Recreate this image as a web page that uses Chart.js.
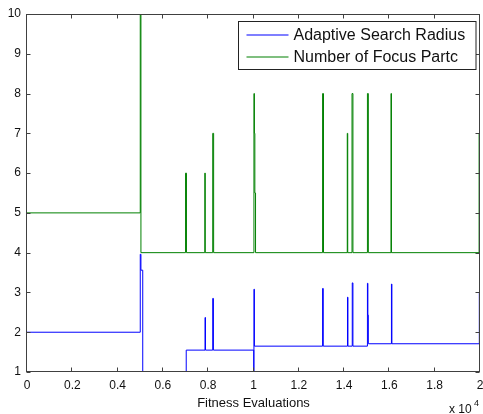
<!DOCTYPE html>
<html>
<head>
<meta charset="utf-8">
<script src="https://cdn.jsdelivr.net/npm/chart.js@4.4.0/dist/chart.umd.min.js"></script>
<style>
    html, body { margin: 0; padding: 0; background: #fff; }
    #wrap { width: 483px; height: 414px; position: relative; }
</style>
</head>
<body>
<div id="wrap"><canvas id="chart"></canvas></div>
<script>
// Series data (x in units of 10^4 fitness evaluations)
const radiusX = [0, 0.500, 0.503, 0.511, 0.703, 0.786, 0.788, 0.820, 0.823, 1.001, 1.002, 1.004, 1.305, 1.308, 1.415, 1.417, 1.436, 1.439, 1.503, 1.505, 1.507, 1.609, 1.611, 1.997, 2.0];
const radiusY = [2, 3.96, 3.56, 0.8, 1.55, 2.37, 1.55, 2.85, 1.55, 0.8, 3.08, 1.65, 3.10, 1.65, 2.88, 1.65, 3.24, 1.65, 3.23, 2.43, 1.71, 3.21, 1.71, 3.0, 3.0];

const focusX = [0, 0.500, 0.503, 0.700, 0.704, 0.785, 0.787, 0.820, 0.824, 1.002, 1.004, 1.006, 1.009, 1.305, 1.309, 1.414, 1.416, 1.435, 1.439, 1.503, 1.507, 1.607, 1.609, 1.996, 2.0];
const focusY = [5, 10, 4, 6, 4, 6, 4, 7, 4, 8, 7, 5.5, 4, 8, 4, 7, 4, 8, 4, 8, 4, 8, 4, 7, 7];

// Axis ticks
const xTicks = [0, 0.2, 0.4, 0.6, 0.8, 1, 1.2, 1.4, 1.6, 1.8, 2];
const yTicks = [1, 2, 3, 4, 5, 6, 7, 8, 9, 10];
const seriesLabels = ['Adaptive Search Radius', 'Number of Focus Partc'];
const seriesColors = ['#0000ff', '#008000'];

const FONT = '"Liberation Sans", Arial, sans-serif';

function toPoints(xs, ys) {
    return xs.map((x, i) => ({ x: x, y: ys[i] }));
}

// Box frame with inward tick marks, MATLAB style
const framePlugin = {
    id: 'frame',
    afterDatasetsDraw(chart) {
        const ctx = chart.ctx;
        const a = chart.chartArea;
        const xs = chart.scales.x, ys = chart.scales.y;
        const L = Math.round(a.left) - 0.5, R = Math.round(a.right) - 0.5;
        const T = Math.round(a.top) + 0.5, B = Math.round(a.bottom) - 0.5;
        ctx.save();
        ctx.strokeStyle = '#404040';
        ctx.lineWidth = 1;
        ctx.strokeRect(L, T, R - L, B - T);
        ctx.beginPath();
        xTicks.forEach(v => {
            const px = Math.round(xs.getPixelForValue(v)) - 0.5;
            ctx.moveTo(px, B); ctx.lineTo(px, B - 4);
            ctx.moveTo(px, T); ctx.lineTo(px, T + 4);
        });
        yTicks.forEach(v => {
            const py = Math.round(ys.getPixelForValue(v)) + 0.5;
            ctx.moveTo(L, py); ctx.lineTo(L + 4, py);
            ctx.moveTo(R, py); ctx.lineTo(R - 4, py);
        });
        ctx.stroke();

        // x-axis title and exponent
        ctx.fillStyle = '#111';
        ctx.font = '13px ' + FONT;
        ctx.textAlign = 'center';
        ctx.textBaseline = 'alphabetic';
        ctx.fillText('Fitness Evaluations', (a.left + a.right) / 2, 407);
        ctx.textAlign = 'left';
        ctx.font = '12px ' + FONT;
        ctx.fillText('x 10', 449, 413);
        ctx.font = '9px ' + FONT;
        ctx.fillText('4', 474, 406);
        ctx.restore();
    }
};

// Boxed legend in the upper right of the plot area
const legendPlugin = {
    id: 'boxLegend',
    afterDraw(chart) {
        const ctx = chart.ctx;
        const a = chart.chartArea;
        const bx = 238.5, by = Math.round(a.top) + 7.5;
        const bw = Math.round(a.right) - 4 - bx, bh = 48;
        ctx.save();
        ctx.fillStyle = '#fff';
        ctx.fillRect(bx, by, bw, bh);
        ctx.strokeStyle = '#222';
        ctx.lineWidth = 1;
        ctx.strokeRect(bx, by, bw, bh);
        ctx.font = '16px ' + FONT;
        ctx.textBaseline = 'middle';
        ctx.textAlign = 'left';
        seriesLabels.forEach((label, i) => {
            const y = Math.round(by + 13 + i * 22.5);
            // sample line, drawn like the data lines (soft 2px anti-aliased edge)
            ctx.strokeStyle = seriesColors[i];
            ctx.lineWidth = 1.2;
            ctx.beginPath();
            ctx.moveTo(bx + 8, y);
            ctx.lineTo(bx + 50, y);
            ctx.stroke();
            ctx.fillStyle = '#111';
            ctx.fillText(label, bx + 55, y + 1);
        });
        ctx.restore();
    }
};

new Chart(document.getElementById('chart'), {
    type: 'line',
    data: {
        datasets: [
            {
                label: seriesLabels[0],
                data: toPoints(radiusX, radiusY),
                borderColor: seriesColors[0],
                borderWidth: 1,
                stepped: true,
                pointRadius: 0,
                fill: false
            },
            {
                label: seriesLabels[1],
                data: toPoints(focusX, focusY),
                borderColor: seriesColors[1],
                borderWidth: 1,
                stepped: true,
                pointRadius: 0,
                fill: false
            }
        ]
    },
    options: {
        responsive: true,
        maintainAspectRatio: false,
        animation: false,
        devicePixelRatio: 1,
        layout: { padding: { top: 14, right: 3, left: 0, bottom: 0 } },
        plugins: { legend: { display: false }, tooltip: { enabled: false } },
        scales: {
            x: {
                type: 'linear',
                min: 0,
                max: 2,
                afterBuildTicks: s => { s.ticks = xTicks.map(v => ({ value: v })); },
                afterFit: s => { s.height = 42; s.paddingLeft = 0; s.paddingRight = 0; },
                grid: { display: true, drawOnChartArea: false, drawTicks: false, color: 'rgba(0,0,0,0)' },
                border: { display: false },
                ticks: {
                    padding: 6,
                    color: '#111',
                    font: { family: FONT, size: 12 },
                    maxRotation: 0,
                    autoSkip: false,
                    callback: v => String(Math.round(v * 10) / 10)
                }
            },
            y: {
                type: 'linear',
                min: 1,
                max: 10,
                afterBuildTicks: s => { s.ticks = yTicks.map(v => ({ value: v })); },
                afterFit: s => { s.width = 27; s.paddingTop = 0; s.paddingBottom = 0; },
                grid: { display: true, drawOnChartArea: false, drawTicks: false, color: 'rgba(0,0,0,0)' },
                border: { display: false },
                ticks: {
                    padding: 6,
                    color: '#111',
                    font: { family: FONT, size: 12 },
                    autoSkip: false
                }
            }
        }
    },
    plugins: [framePlugin, legendPlugin]
});
</script>
</body>
</html>
